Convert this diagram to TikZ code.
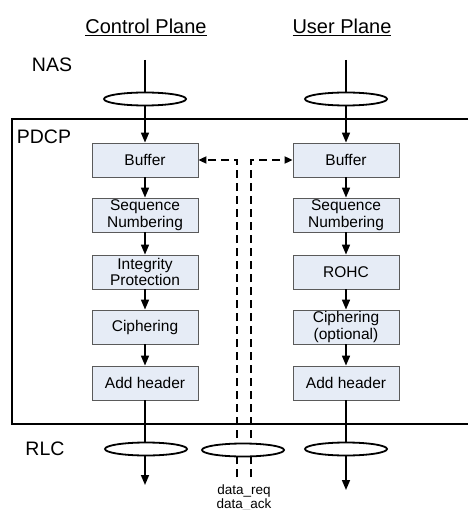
\documentclass[tikz,border=0pt]{standalone}
\usepackage{fontspec}
\setmainfont{Liberation Sans}
\usetikzlibrary{arrows.meta,shapes.geometric}
\definecolor{boxfill}{RGB}{230,236,246}
\definecolor{boxline}{RGB}{90,90,90}
\tikzset{
 layer/.style={font=\fontsize{19.5}{22}\selectfont},
 plane/.style={font=\fontsize{20}{22}\selectfont},
 pbox/.style={draw=boxline,fill=boxfill,line width=0.8pt,minimum width=106pt,
   minimum height=34pt,inner sep=1pt,align=center,font=\fontsize{15.5}{16.5}\selectfont},
 sap/.style={draw,ellipse,fill=white,line width=1.8pt,minimum width=82pt,
   minimum height=13pt,inner sep=0pt},
 flow/.style={line width=1.6pt,-{Triangle[length=10pt,width=8pt]}},
 sig/.style={line width=1.8pt,dash pattern=on 8pt off 5pt,-{Triangle[length=8pt,width=7pt]}},
 sigline/.style={line width=1.8pt,dash pattern=on 8pt off 5pt}
}
\begin{document}
\begin{tikzpicture}[x=1pt,y=-1pt]
 \useasboundingbox (0,0) rectangle (468,510);
 % plane titles and layer names
 \node[plane] (cptitle) at (146,27) {\underline{Control Plane}};
 \node[plane] (uptitle) at (342,27) {\underline{User Plane}};
 \node[layer] (nas) at (52,65) {NAS};
 \node[layer] (pdcp) at (44,137) {PDCP};
 \node[layer] (rlc) at (45,449) {RLC};
 % PDCP entity
 \draw[line width=1.8pt] (468,119) -- (12,119) -- (12,424) -- (468,424);
 % control plane chain
 \node[pbox] (cbuf) at (145,160) {Buffer};
 \node[pbox] (cseq) at (145,215) {Sequence\\Numbering};
 \node[pbox] (cint) at (145,272) {Integrity\\Protection};
 \node[pbox] (ccip) at (145,327) {Ciphering};
 \node[pbox] (chdr) at (145,383) {Add header};
 % user plane chain
 \node[pbox] (ubuf) at (346,160) {Buffer};
 \node[pbox] (useq) at (346,215) {Sequence\\Numbering};
 \node[pbox] (urohc) at (346,272) {ROHC};
 \node[pbox] (ucip) at (346,327) {Ciphering\\(optional)};
 \node[pbox] (uhdr) at (346,383) {Add header};
 % in and out points
 \coordinate (cin) at (145,60);
 \coordinate (uin) at (346,60);
 \coordinate (cout) at (145,485);
 \coordinate (uout) at (346,490);
 \coordinate (reqbot) at (237,477);
 \coordinate (ackbot) at (251,477);
 \draw[flow] (cin) -- (cbuf);
 \draw[flow] (uin) -- (ubuf);
 \draw[flow] (cbuf) -- (cseq);
 \draw[flow] (cseq) -- (cint);
 \draw[flow] (cint) -- (ccip);
 \draw[flow] (ccip) -- (chdr);
 \draw[flow] (ubuf) -- (useq);
 \draw[flow] (useq) -- (urohc);
 \draw[flow] (urohc) -- (ucip);
 \draw[flow] (ucip) -- (uhdr);
 \draw[flow] (chdr) -- (cout);
 \draw[flow] (uhdr) -- (uout);
 % buffer signalling
 \draw[sig] (reqbot) |- (cbuf.east);
 \draw[sig] (ackbot) |- (ubuf.west);
 % service access points
 \node[sap] (csapin) at (145,99) {};
 \node[sap] (usapin) at (346,99) {};
 \node[sap] (csapout) at (146,449) {};
 \node[sap] (msapout) at (243,450) {};
 \node[sap] (usapout) at (346,449) {};
 \draw[sigline] (reqbot) -- ++(0,-20);
 \draw[sigline] (ackbot) -- ++(0,-20);
 \node[font=\fontsize{13.5}{13.5}\selectfont,align=center] (sigtext) at (244,498) {data\_req\\data\_ack};
\end{tikzpicture}
\end{document}
